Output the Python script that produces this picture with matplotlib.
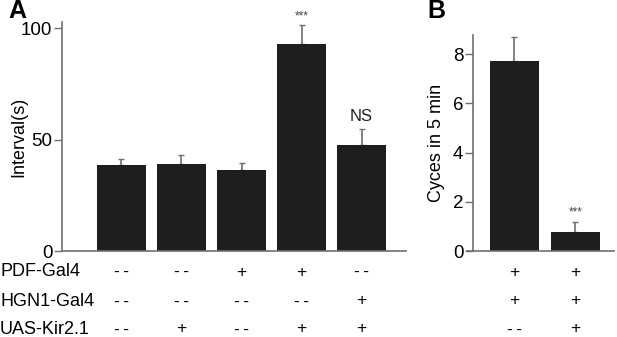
import matplotlib
matplotlib.use("Agg")
import matplotlib.pyplot as plt
from matplotlib.transforms import blended_transform_factory

plt.rcParams['font.family'] = ['Liberation Sans', 'DejaVu Sans']

# Panel A data
a_vals = [38.6, 39.0, 36.2, 92.8, 47.5]
a_err = [2.8, 4.0, 3.3, 8.4, 7.3]
a_sig = ['', '', '', '***', 'NS']
a_pdf = ['--', '--', '+', '+', '--']
a_hgn = ['--', '--', '--', '--', '+']
a_uas = ['--', '+', '--', '+', '+']

# Panel B data
b_vals = [7.72, 0.78]
b_err = [0.98, 0.38]
b_sig = ['', '***']
b_pdf = ['+', '+']
b_hgn = ['+', '+']
b_uas = ['--', '+']

row_labels = ['PDF-Gal4', 'HGN1-Gal4', 'UAS-Kir2.1']

W, H = 617, 337
fig = plt.figure(figsize=(W/100, H/100), dpi=100)

bar_col = '#1e1e1e'
spine_col = '#707070'
err_col = '#707070'

def fx(px): return px / W
def fy(py): return 1 - py / H

# Axes A
axA = fig.add_axes([fx(62), fy(251), fx(406) - fx(62), fy(22) - fy(251)])
xa = list(range(len(a_vals)))
axA.bar(xa, a_vals, width=0.82, color=bar_col, zorder=2)
axA.errorbar(xa, a_vals, yerr=[[0]*len(a_err), a_err], fmt='none', ecolor=err_col,
             elinewidth=1.2, capsize=2.5, capthick=1.0, zorder=1)
axA.set_xlim(-0.99, 4.74)
axA.set_ylim(0, 102.7)
axA.set_yticks([0, 50, 100])
axA.set_xticks([])
for s in ['top', 'right']:
    axA.spines[s].set_visible(False)
for s in ['left', 'bottom']:
    axA.spines[s].set_color(spine_col)
    axA.spines[s].set_linewidth(1.2)
axA.tick_params(axis='y', length=6, width=1, color=spine_col, labelsize=13.5, pad=1)
axA.set_ylabel('Interval(s)', fontsize=13)
axA.yaxis.set_label_coords((27 - 62) / 344, 0.5)
for i, (v, e, s) in enumerate(zip(a_vals, a_err, a_sig)):
    if s == '***':
        axA.text(i, v + e + 1.5, s, ha='center', va='bottom', fontsize=8.5, color='#444444')
    elif s:
        axA.text(i, v + e + 2.0, s, ha='center', va='bottom', fontsize=12, color='#222222')

# Axes B
axB = fig.add_axes([fx(467), fy(251), fx(614) - fx(467), fy(35) - fy(251)])
xb = list(range(len(b_vals)))
axB.bar(xb, b_vals, width=0.8, color=bar_col, zorder=2)
axB.errorbar(xb, b_vals, yerr=[[0]*len(b_err), b_err], fmt='none', ecolor=err_col,
             elinewidth=1.2, capsize=2.5, capthick=1.0, zorder=1)
axB.set_xlim(-0.77, 1.63)
axB.set_ylim(0, 8.78)
axB.set_yticks([0, 2, 4, 6, 8])
axB.set_xticks([])
axB.spines['left'].set_position(('data', -0.67))
for s in ['top', 'right']:
    axB.spines[s].set_visible(False)
for s in ['left', 'bottom']:
    axB.spines[s].set_color(spine_col)
    axB.spines[s].set_linewidth(1.2)
axB.tick_params(axis='y', length=6, width=1, color=spine_col, labelsize=13.5, pad=1)
axB.set_ylabel('Cyces in 5 min', fontsize=13)
axB.yaxis.set_label_coords((445 - 467) / 147, 0.5)
for i, (v, e, s) in enumerate(zip(b_vals, b_err, b_sig)):
    if s:
        axB.text(i, v + e + 0.15, s, ha='center', va='bottom', fontsize=8.5, color='#444444')

# Genotype table
row_y = [fy(272), fy(301), fy(329)]
for lab, y in zip(row_labels, row_y):
    fig.text(0.0, y, lab, ha='left', va='center', fontsize=13)

def sym_txt(t):
    return '-\u2009-' if t == '--' else t

tA = blended_transform_factory(axA.transData, fig.transFigure)
for rows, y in zip([a_pdf, a_hgn, a_uas], row_y):
    for i, t in enumerate(rows):
        axA.text(i, y, sym_txt(t), transform=tA, ha='center', va='center',
                 clip_on=False, fontsize=12.5)

tB = blended_transform_factory(axB.transData, fig.transFigure)
for rows, y in zip([b_pdf, b_hgn, b_uas], row_y):
    for i, t in enumerate(rows):
        axB.text(i, y, sym_txt(t), transform=tB, ha='center', va='center',
                 clip_on=False, fontsize=12.5)

fig.text(fx(8), fy(11), 'A', ha='left', va='center', fontsize=18, fontweight='bold')
fig.text(fx(427), fy(11), 'B', ha='left', va='center', fontsize=18, fontweight='bold')

fig.savefig('out.png', dpi=100)
